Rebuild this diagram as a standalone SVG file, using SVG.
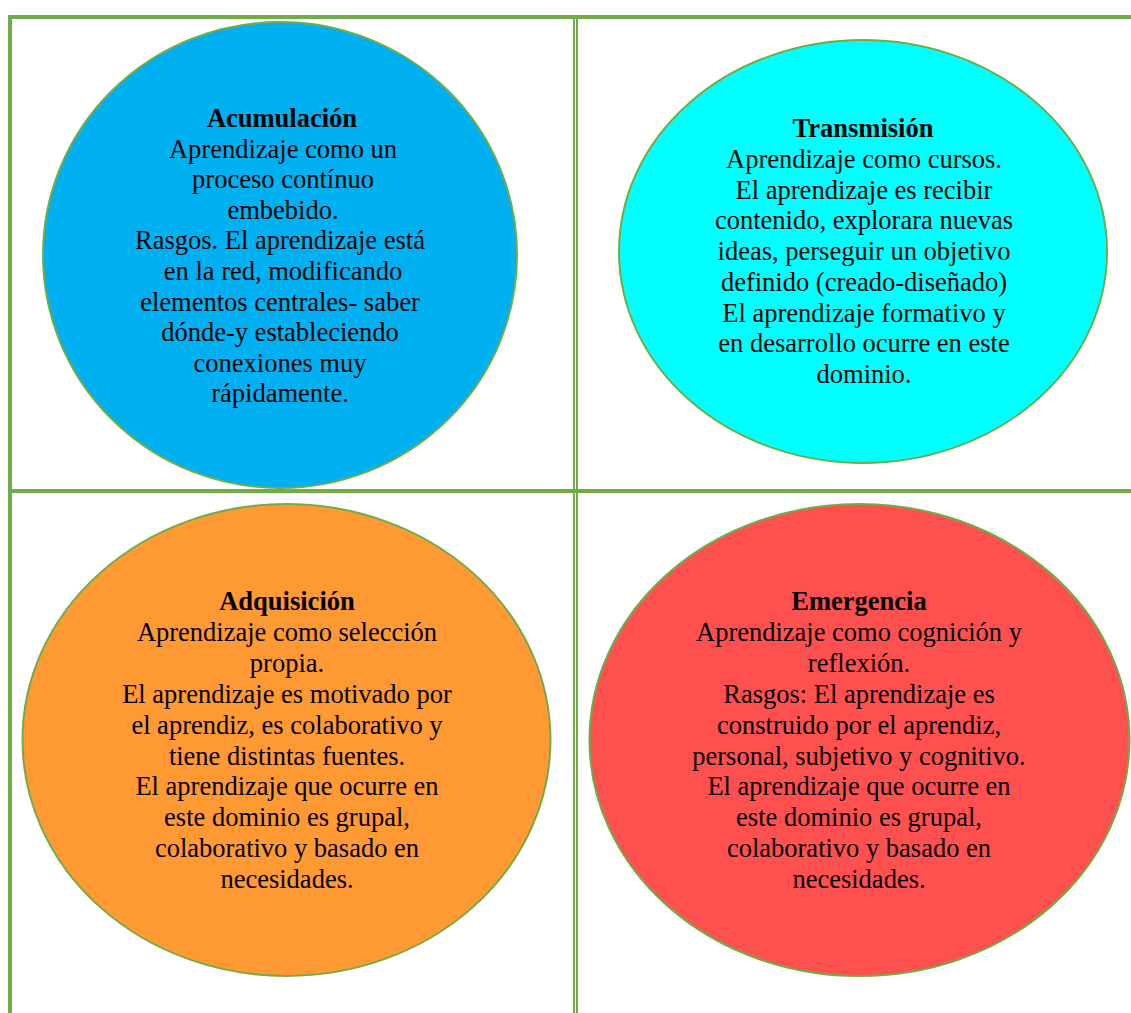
<svg xmlns="http://www.w3.org/2000/svg" width="1131" height="1013" viewBox="0 0 1131 1013">
<style>
.grid{fill:#70AD47}
.node ellipse{stroke:#70AD47;stroke-width:2}
.node text{font-family:"Liberation Serif","Times New Roman",serif;font-size:26.5px;fill:#000;text-anchor:middle}
.node .title{font-weight:bold}
</style>
<rect width="1131" height="1013" fill="#fff"/>
<g id="grid" class="grid">
<rect x="8" y="15" width="1123" height="4"/>
<rect x="8" y="15" width="4" height="998"/>
<rect x="8" y="489" width="1123" height="4"/>
<rect x="573" y="19" width="2" height="994"/>
<rect x="576" y="19" width="2" height="994"/>
</g>
<g id="acumulacion" class="node">
<ellipse cx="280" cy="255" rx="237" ry="233" fill="#00B0F0"/>
<text x="282" y="127" class="title">Acumulación</text>
<text x="283" y="157.6">Aprendizaje como un</text>
<text x="283" y="188.2">proceso contínuo</text>
<text x="283" y="218.8">embebido.</text>
<text x="280" y="249.4">Rasgos. El aprendizaje está</text>
<text x="283" y="280">en la red, modificando</text>
<text x="280" y="310.6">elementos centrales- saber</text>
<text x="280" y="341.2">dónde-y estableciendo</text>
<text x="280" y="371.8">conexiones muy</text>
<text x="280" y="402.4">rápidamente.</text>
</g>
<g id="transmision" class="node">
<ellipse cx="863" cy="251.5" rx="244" ry="211.5" fill="#00FFFF"/>
<text x="863" y="137" class="title">Transmisión</text>
<text x="864" y="167.8">Aprendizaje como cursos.</text>
<text x="864" y="198.5">El aprendizaje es recibir</text>
<text x="864" y="229.3">contenido, explorara nuevas</text>
<text x="864" y="260">ideas, perseguir un objetivo</text>
<text x="864" y="290.8">definido (creado-diseñado)</text>
<text x="864" y="321.5">El aprendizaje formativo y</text>
<text x="864" y="352.3">en desarrollo ocurre en este</text>
<text x="864" y="383">dominio.</text>
</g>
<g id="adquisicion" class="node">
<ellipse cx="286.5" cy="740" rx="264" ry="236" fill="#FF9933"/>
<text x="287" y="610" class="title">Adquisición</text>
<text x="287" y="640.9">Aprendizaje como selección</text>
<text x="287" y="671.8">propia.</text>
<text x="287" y="702.7">El aprendizaje es motivado por</text>
<text x="287" y="733.6">el aprendiz, es colaborativo y</text>
<text x="287" y="764.5">tiene distintas fuentes.</text>
<text x="287" y="795.4">El aprendizaje que ocurre en</text>
<text x="287" y="826.3">este dominio es grupal,</text>
<text x="287" y="857.2">colaborativo y basado en</text>
<text x="287" y="888.1">necesidades.</text>
</g>
<g id="emergencia" class="node">
<ellipse cx="859.5" cy="740" rx="270" ry="236" fill="#FF5050"/>
<text x="859" y="610" class="title">Emergencia</text>
<text x="859" y="640.9">Aprendizaje como cognición y</text>
<text x="859" y="671.8">reflexión.</text>
<text x="859" y="702.7">Rasgos: El aprendizaje es</text>
<text x="859" y="733.6">construido por el aprendiz,</text>
<text x="859" y="764.5">personal, subjetivo y cognitivo.</text>
<text x="859" y="795.4">El aprendizaje que ocurre en</text>
<text x="859" y="826.3">este dominio es grupal,</text>
<text x="859" y="857.2">colaborativo y basado en</text>
<text x="859" y="888.1">necesidades.</text>
</g>
<g id="connectors"></g>
</svg>
